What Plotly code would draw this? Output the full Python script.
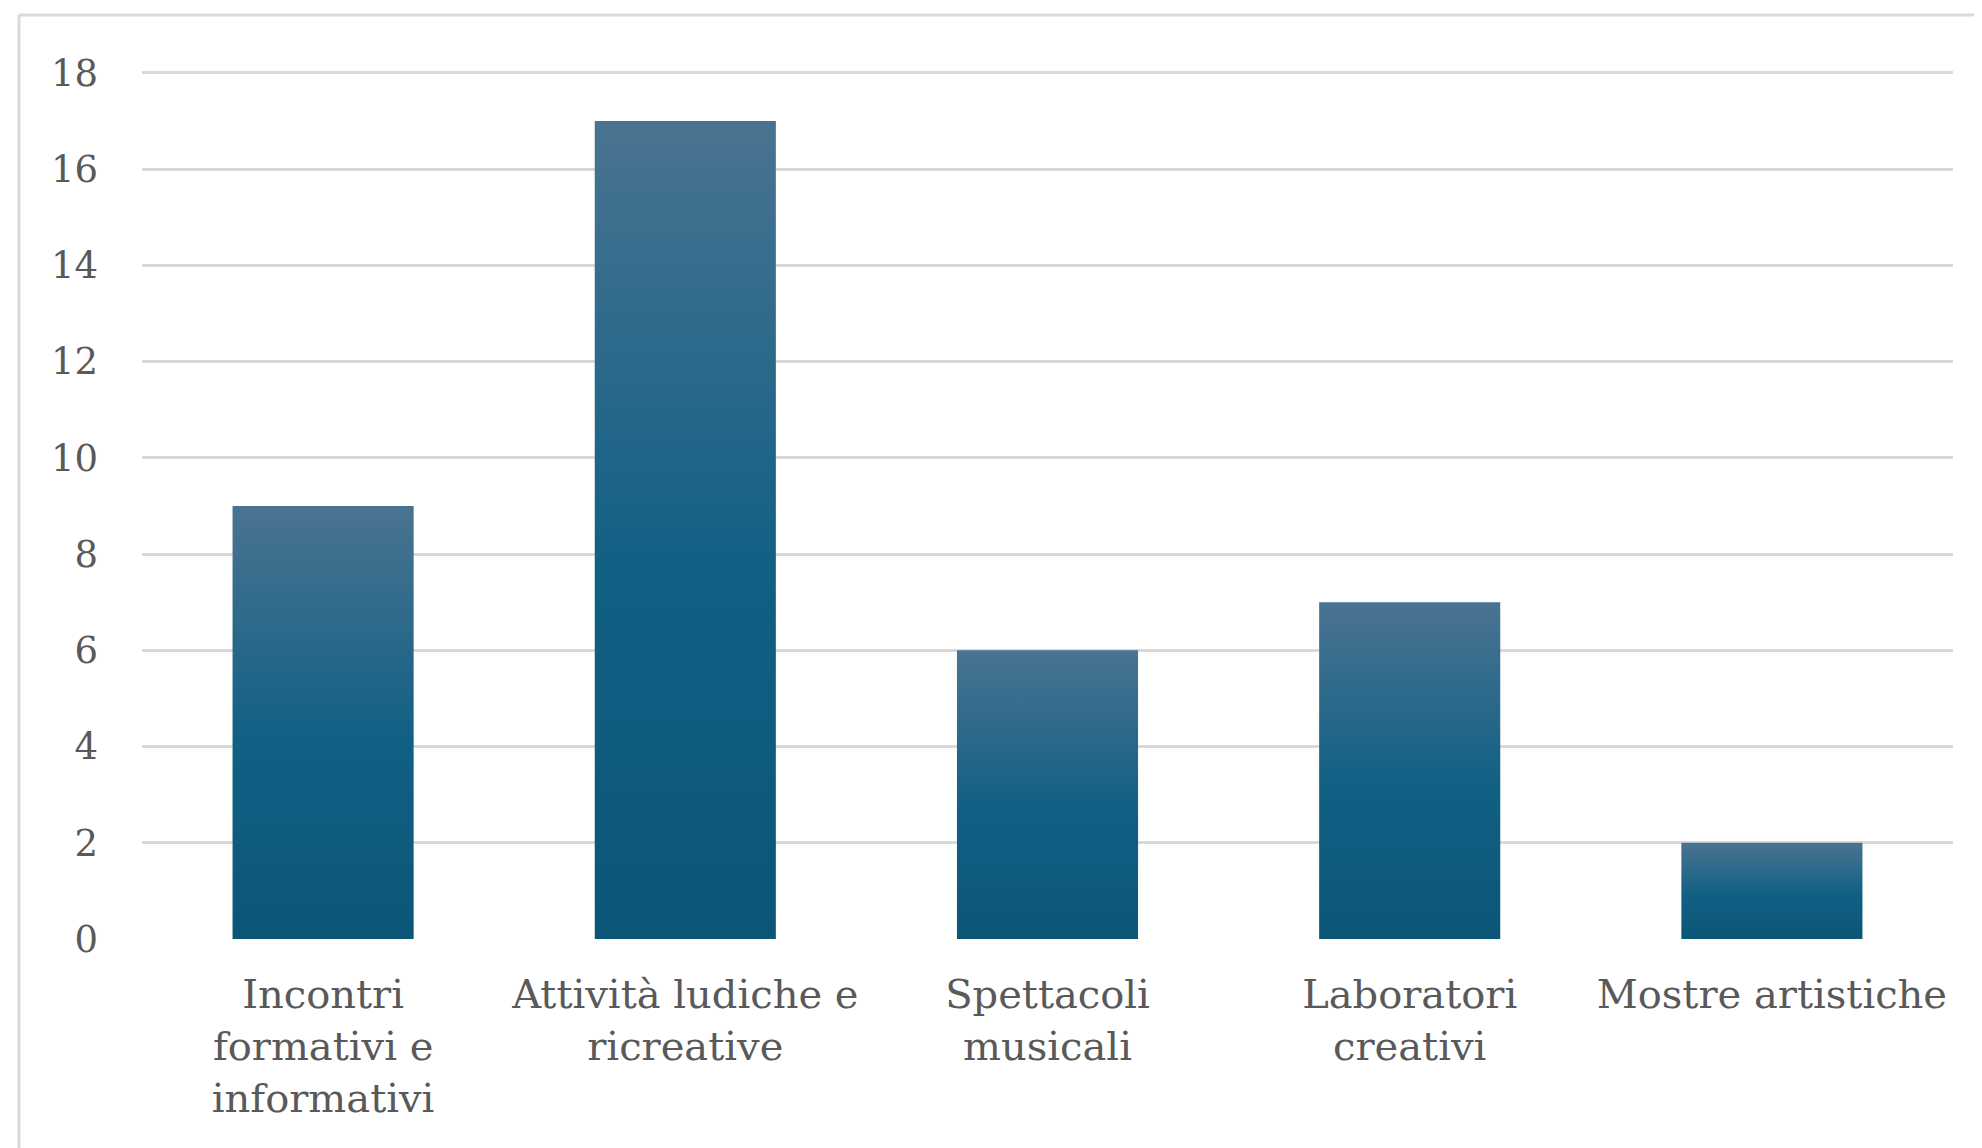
import plotly.graph_objects as go

# ---- data ----
categories = [
    "Incontri<br>formativi e<br>informativi",
    "Attività ludiche e<br>ricreative",
    "Spettacoli<br>musicali",
    "Laboratori<br>creativi",
    "Mostre artistiche",
]
values = [9, 17, 6, 7, 2]
y_ticks = [0, 2, 4, 6, 8, 10, 12, 14, 16, 18]

# ---- style ----
W, H = 1982, 1148
Y_TOP = 18.1
ML, MR, MT, MB = 134, 37, 60, 217
BAR_W = 0.5
FONT = "DejaVu Serif"
TXT = "#595959"
GRID = "#d9d9d9"
grad = [[0.0, "#0b5677"], [0.45, "#106084"], [1.0, "#4a7391"]]

fig = go.Figure()
for i, (cat, v) in enumerate(zip(categories, values)):
    x0, x1 = i - BAR_W / 2, i + BAR_W / 2
    fig.add_trace(go.Scatter(
        x=[x0, x1, x1, x0, x0],
        y=[0, 0, v, v, 0],
        mode="lines",
        line=dict(width=0, color="rgba(0,0,0,0)"),
        fill="toself",
        fillgradient=dict(type="vertical", colorscale=grad),
        hoverinfo="text",
        text=f"{cat.replace('<br>', ' ')}: {v}",
        showlegend=False,
    ))

pw = W - ML - MR
ph = H - MT - MB
# outer chart frame (cropped on right and bottom)
fx = (11 - ML) / pw
fy = (H - MB - 7) / ph
fig.add_shape(type="line", xref="paper", yref="paper", x0=fx, x1=(W - ML) / pw + 0.01,
              y0=fy, y1=fy, line=dict(color=GRID, width=3), layer="below")
fig.add_shape(type="line", xref="paper", yref="paper", x0=fx, x1=fx,
              y0=fy, y1=-MB / ph - 0.01, line=dict(color=GRID, width=3), layer="below")

fig.update_layout(
    width=W, height=H,
    margin=dict(l=ML, r=MR, t=MT, b=MB, autoexpand=False),
    plot_bgcolor="white", paper_bgcolor="white",
    font=dict(family=FONT, color=TXT, size=40),
    xaxis=dict(
        range=[-0.5, len(categories) - 0.5],
        tickmode="array",
        tickvals=list(range(len(categories))),
        ticktext=categories,
        showgrid=False, zeroline=False, showline=False,
        ticks="", ticklabelstandoff=28,
        tickfont=dict(family=FONT, color=TXT, size=40),
        fixedrange=True,
    ),
    yaxis=dict(
        range=[0, Y_TOP],
        tickmode="array",
        tickvals=y_ticks,
        showgrid=True, gridcolor=GRID, gridwidth=3,
        zeroline=False, showline=False,
        ticks="", ticklabelstandoff=43,
        tickfont=dict(family=FONT, color=TXT, size=37),
        fixedrange=True,
    ),
    showlegend=False,
)

fig.write_html("out.html")
